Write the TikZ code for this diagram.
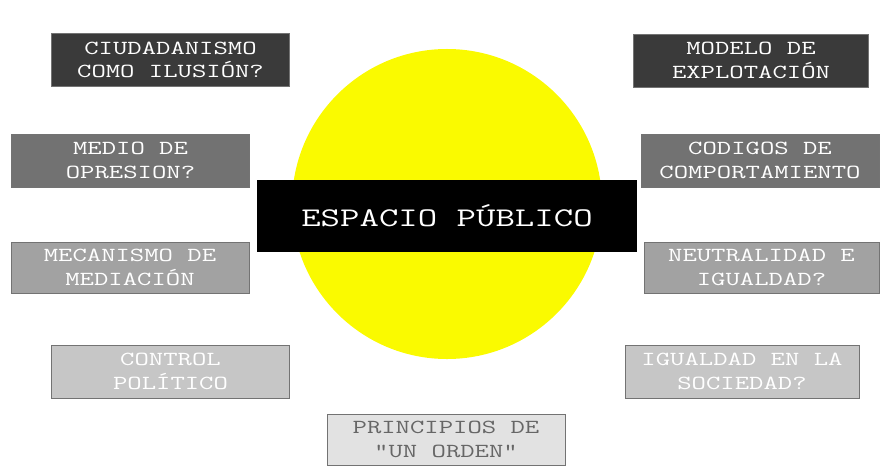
\documentclass[tikz,border=0pt]{standalone}
\usepackage{fontspec}
\usepackage{tikz}
\newfontfamily\boxfont[FakeStretch=1.4]{Latin Modern Mono}
\definecolor{sunyellow}{HTML}{FAFA00}
\definecolor{tonea}{HTML}{3A3A3A}
\definecolor{toneb}{HTML}{727272}
\definecolor{tonec}{HTML}{A2A2A2}
\definecolor{toned}{HTML}{C6C6C6}
\definecolor{tonee}{HTML}{E2E2E2}

\begin{document}
\begin{tikzpicture}[x=0.03cm,y=-0.03cm,
	idea/.style={draw=black!55,line width=0.5pt,minimum width=7.14cm,minimum height=1.6cm,inner sep=0pt,
		align=center,text=white,font=\boxfont\fontsize{17}{20}\selectfont},
	dark/.style={idea,fill=tonea},
	mid/.style={idea,fill=toneb},
	pale/.style={idea,fill=tonec},
	faint/.style={idea,fill=toned},
	ground/.style={idea,fill=tonee,text=black!60}]
			\useasboundingbox (0,0) rectangle (886,472);
			% the big circle behind everything
			\node (sun) [circle,fill=sunyellow,minimum size=9.3cm,inner sep=0pt] at (447,204) {};
			\node (centre) [fill=black,minimum width=11.4cm,minimum height=2.16cm,text=white,
				font=\boxfont\fontsize{23}{28}\selectfont] at (447,215.5) {ESPACIO PÚBLICO};
			% left column
			\node (ilusion) [dark] at (170.5,60) {CIUDADANISMO\\COMO ILUSIÓN?};
			\node (opresion) [mid] at (130.5,160.5) {MEDIO DE\\OPRESION?};
			\node (mediacion) [pale,minimum height=1.53cm] at (130,267.5) {MECANISMO DE\\MEDIACIÓN};
			\node (control) [faint] at (170.5,371.5) {CONTROL\\POLÍTICO};
			% right column
			\node (modelo) [dark,minimum width=7.05cm] at (751,60.5) {MODELO DE\\EXPLOTACIÓN};
			\node (codigos) [mid] at (760,160.5) {CODIGOS DE\\COMPORTAMIENTO};
			\node (neutral) [pale,minimum width=7.05cm,minimum height=1.53cm] at (761.5,267.5) {NEUTRALIDAD E\\IGUALDAD?};
			\node (sociedad) [faint,minimum width=7.02cm] at (742,371.5) {IGUALDAD EN LA\\SOCIEDAD?};
			% bottom
			\node (orden) [ground,minimum height=1.53cm] at (446,439.5) {PRINCIPIOS DE\\“UN ORDEN”};
\end{tikzpicture}
\end{document}
